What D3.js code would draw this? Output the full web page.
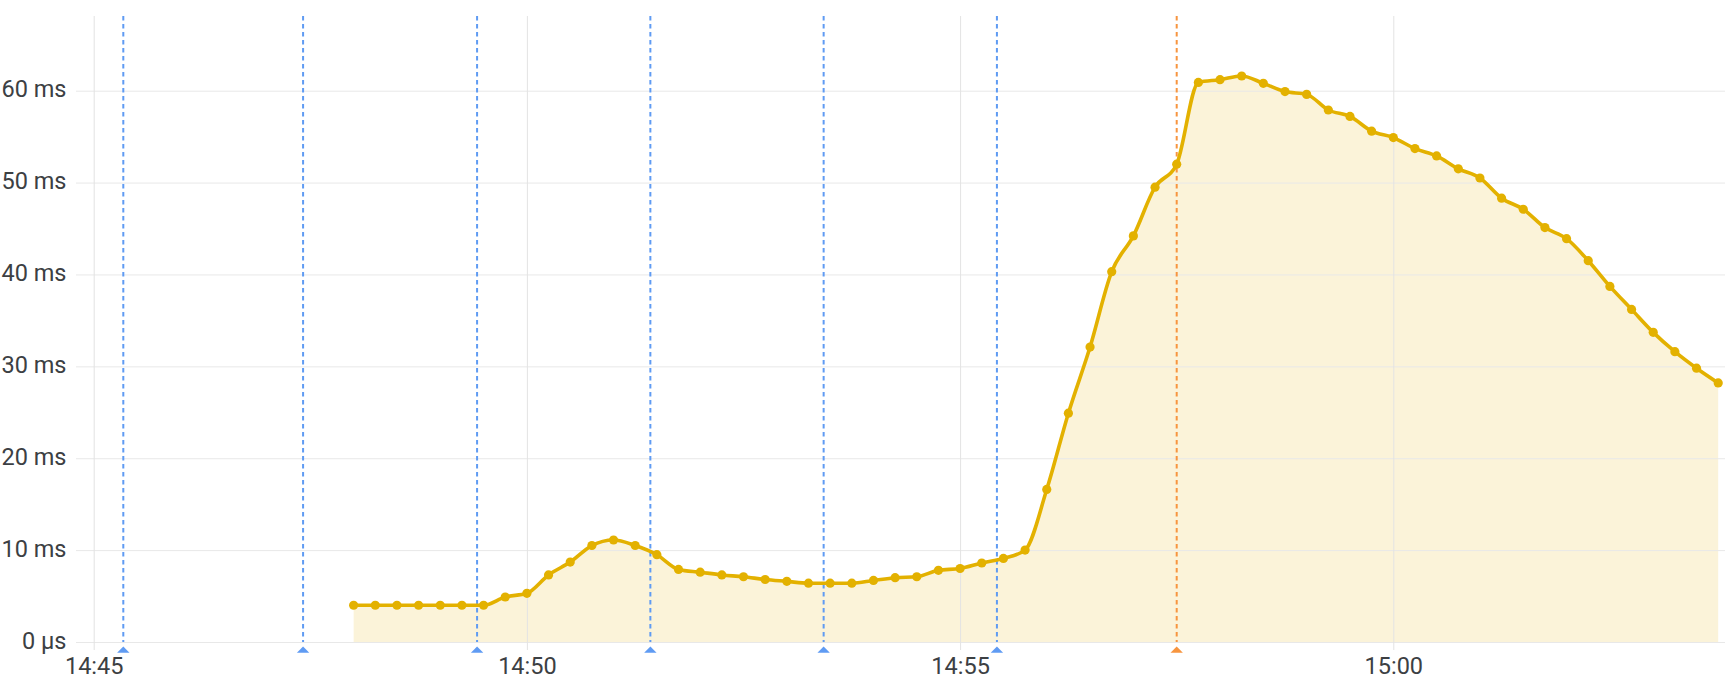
<!DOCTYPE html>
<html>
<head>
<meta charset="utf-8">
<script src="https://cdn.jsdelivr.net/npm/d3@7"></script>
<style>
  html, body { margin: 0; padding: 0; background: #ffffff; }
  svg { display: block; }
  text { font-family: Roboto, "Noto Sans", sans-serif; }
</style>
</head>
<body>
<svg id="chart" width="1725" height="676"></svg>
<script>
// ---- data ----
const times = [
  "14:48:00","14:48:15","14:48:30","14:48:45","14:49:00","14:49:15","14:49:30","14:49:45",
  "14:50:00","14:50:15","14:50:30","14:50:45","14:51:00","14:51:15","14:51:30","14:51:45",
  "14:52:00","14:52:15","14:52:30","14:52:45","14:53:00","14:53:15","14:53:30","14:53:45",
  "14:54:00","14:54:15","14:54:30","14:54:45","14:55:00","14:55:15","14:55:30","14:55:45",
  "14:56:00","14:56:15","14:56:30","14:56:45","14:57:00","14:57:15","14:57:30","14:57:45",
  "14:58:00","14:58:15","14:58:30","14:58:45","14:59:00","14:59:15","14:59:30","14:59:45",
  "15:00:00","15:00:15","15:00:30","15:00:45","15:01:00","15:01:15","15:01:30","15:01:45",
  "15:02:00","15:02:15","15:02:30","15:02:45","15:03:00","15:03:15","15:03:30","15:03:45"
];
const latencyMs = [
  4.0, 4.0, 4.0, 4.0, 4.0, 4.0, 4.0, 4.9,
  5.3, 7.3, 8.7, 10.5, 11.1, 10.5, 9.5, 7.9,
  7.6, 7.3, 7.1, 6.8, 6.6, 6.4, 6.4, 6.4,
  6.7, 7.0, 7.1, 7.8, 8.0, 8.6, 9.1, 10.0,
  16.6, 24.9, 32.1, 40.3, 44.2, 49.5, 52.0, 60.9,
  61.2, 61.6, 60.8, 59.9, 59.6, 57.9, 57.2, 55.6,
  54.9, 53.7, 52.9, 51.5, 50.5, 48.3, 47.1, 45.1,
  43.9, 41.5, 38.7, 36.2, 33.7, 31.6, 29.8, 28.2
];
const blueEvents = ["14:45:20.5","14:47:25","14:49:25.5","14:51:25.5","14:53:25.5","14:55:25.5"];
const orangeEvents = ["14:57:30"];
const xTickValues = ["14:45","14:50","14:55","15:00"];
const yTickValues = [0, 10, 20, 30, 40, 50, 60];
const yTickLabels = ["0 µs","10 ms","20 ms","30 ms","40 ms","50 ms","60 ms"];

// ---- helpers ----
function parseT(s) {
  const p = s.split(":");
  const sec = p.length > 2 ? +p[2] : 0;
  return new Date(2024, 0, 1, +p[0], +p[1], Math.floor(sec), Math.round((sec % 1) * 1000));
}

const plotLeft = 76, plotRight = 1725, plotTop = 16, plotBottom = 642;
const lineColor = "#e3b100";
const blue = "#5f9bf3";
const orange = "#f7953f";
const gridColor = "#e8e8e8";
const textColor = "#3c4043";
const fontSize = 23.5;

const svg = d3.select("#chart");

const x = d3.scaleTime()
  .domain([parseT("14:45"), parseT("15:00")])
  .range([93.7, 1393.3]);
const y = d3.scaleLinear()
  .domain([0, 60])
  .range([plotBottom, 90.7]);

const data = times.map((t, i) => ({ t: parseT(t), v: latencyMs[i] }));

// area fill
const area = d3.area()
  .x(d => x(d.t))
  .y0(y(0))
  .y1(d => y(d.v))
  .curve(d3.curveMonotoneX);
svg.append("path")
  .datum(data)
  .attr("d", area)
  .attr("fill", lineColor)
  .attr("fill-opacity", 0.15);

// horizontal grid + y labels
const yAxis = d3.axisLeft(y)
  .tickValues(yTickValues)
  .tickFormat((d, i) => yTickLabels[i])
  .tickSizeInner(-(plotRight - plotLeft))
  .tickSizeOuter(0)
  .tickPadding(9.5);
const gy = svg.append("g")
  .attr("transform", `translate(${plotLeft},0)`)
  .call(yAxis);
gy.select(".domain").remove();
gy.selectAll(".tick line").attr("stroke", gridColor).attr("stroke-width", 1);
gy.selectAll(".tick text")
  .attr("fill", textColor)
  .attr("font-size", fontSize)
  .attr("font-family", "Roboto")
  .attr("dy", "0.26em");

// vertical grid + x labels
const xAxis = d3.axisBottom(x)
  .tickValues(xTickValues.map(parseT))
  .tickFormat(d3.timeFormat("%H:%M"))
  .tickSizeInner(-(650 - plotTop))
  .tickSizeOuter(0)
  .tickPadding(7.8);
const gx = svg.append("g")
  .attr("transform", `translate(0,650)`)
  .call(xAxis);
gx.select(".domain").remove();
gx.selectAll(".tick line").attr("stroke", "#e3e3e3").attr("stroke-width", 1);
gx.selectAll(".tick text")
  .attr("fill", textColor)
  .attr("font-size", fontSize)
  .attr("font-family", "Roboto");

// event lines
function drawEvents(list, color) {
  const g = svg.append("g");
  list.forEach(s => {
    const xx = x(parseT(s));
    g.append("line")
      .attr("x1", xx).attr("x2", xx)
      .attr("y1", plotTop).attr("y2", plotBottom)
      .attr("stroke", color)
      .attr("stroke-width", 2)
      .attr("stroke-dasharray", "4.5,3.5");
    g.append("path")
      .attr("d", `M${xx - 6.2},652.7 L${xx},646.5 L${xx + 6.2},652.7 Z`)
      .attr("fill", color);
  });
}
drawEvents(blueEvents, blue);
drawEvents(orangeEvents, orange);

// line
const line = d3.line()
  .x(d => x(d.t))
  .y(d => y(d.v))
  .curve(d3.curveMonotoneX);
svg.append("path")
  .datum(data)
  .attr("d", line)
  .attr("fill", "none")
  .attr("stroke", lineColor)
  .attr("stroke-width", 3.6)
  .attr("stroke-linejoin", "round");

// points
svg.append("g")
  .selectAll("circle")
  .data(data)
  .join("circle")
  .attr("cx", d => x(d.t))
  .attr("cy", d => y(d.v))
  .attr("r", 4.6)
  .attr("fill", lineColor);
</script>
</body>
</html>
